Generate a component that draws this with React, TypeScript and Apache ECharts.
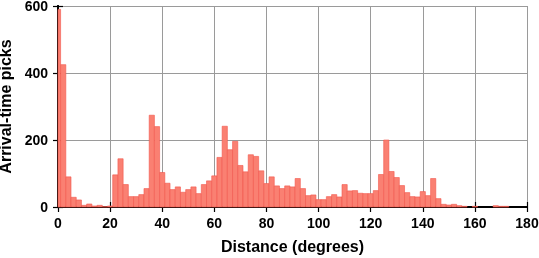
import React, { useEffect, useRef } from "react";
import * as echarts from "echarts";

// Bin centres (degrees), bins are 2 degrees wide, centred on even values
const binCenters = [
  0, 2, 4, 6, 8, 10, 12, 14, 16, 18,
  20, 22, 24, 26, 28, 30, 32, 34, 36, 38,
  40, 42, 44, 46, 48, 50, 52, 54, 56, 58,
  60, 62, 64, 66, 68, 70, 72, 74, 76, 78,
  80, 82, 84, 86, 88, 90, 92, 94, 96, 98,
  100, 102, 104, 106, 108, 110, 112, 114, 116, 118,
  120, 122, 124, 126, 128, 130, 132, 134, 136, 138,
  140, 142, 144, 146, 148, 150, 152, 154, 156, 158,
  160, 162, 164, 166, 168, 170, 172, 174, 176, 178,
  180,
];

// Arrival-time pick counts per bin
const pickCounts = [
  590, 425, 90, 29, 21, 5, 9, 3, 5, 1,
  3, 96, 144, 67, 31, 31, 37, 55, 274, 240,
  103, 71, 52, 60, 44, 52, 60, 40, 67, 78,
  93, 148, 241, 171, 196, 124, 105, 156, 151, 108,
  70, 90, 63, 55, 63, 60, 85, 55, 34, 36,
  22, 22, 31, 37, 30, 67, 48, 49, 41, 40,
  40, 49, 97, 200, 106, 88, 64, 43, 31, 30,
  46, 34, 85, 25, 8, 6, 8, 4, 2, 0,
  2, 0, 0, 0, 4, 2, 2, 0, 0, 0,
  0,
];

const binWidth = 2;
const xTicks = [0, 20, 40, 60, 80, 100, 120, 140, 160, 180];
const yTicks = [0, 200, 400, 600];

const FONT = "'Liberation Sans', Arial, Helvetica, sans-serif";

export default function App() {
  const ref = useRef<HTMLDivElement>(null);

  useEffect(() => {
    if (!ref.current) return;
    const chart = echarts.init(ref.current, null, { renderer: "svg" });
    const xMin = xTicks[0];
    const xMax = xTicks[xTicks.length - 1];
    const data = binCenters.map((c, i) => [c, pickCounts[i]]);

    const axisLine = { show: true, lineStyle: { color: "#000", width: 2 } };
    const axisTick = { show: true, inside: false, length: 5, lineStyle: { color: "#000", width: 1.2 } };

    chart.setOption({
      animation: false,
      grid: {
        left: 58,
        right: 12,
        top: 6,
        bottom: 51,
        containLabel: false,
        outerBoundsMode: "none",
      },
      xAxis: [
        {
          type: "value",
          position: "bottom",
          min: xMin,
          max: xMax,
          interval: 20,
          axisLine,
          axisTick,
          axisLabel: {
            color: "#000",
            fontFamily: FONT,
            fontWeight: "bold",
            fontSize: 14,
            margin: 9,
          },
          splitLine: { show: true, lineStyle: { color: "#9a9a9a", width: 1 } },
          name: "Distance (degrees)",
          nameLocation: "middle",
          nameGap: 31,
          nameTextStyle: { color: "#000", fontFamily: FONT, fontWeight: "bold", fontSize: 16 },
        },
        {
          type: "value",
          position: "top",
          min: xMin,
          max: xMax,
          interval: 20,
          axisLine,
          axisTick,
          axisLabel: { show: false },
          splitLine: { show: false },
        },
      ],
      yAxis: [
        {
          type: "value",
          position: "left",
          min: yTicks[0],
          max: yTicks[yTicks.length - 1],
          interval: 200,
          axisLine,
          axisTick,
          axisLabel: {
            color: "#000",
            fontFamily: FONT,
            fontWeight: "bold",
            fontSize: 14,
            margin: 10,
            padding: [3, 0, 0, 0],
          },
          splitLine: { show: true, lineStyle: { color: "#9a9a9a", width: 1 } },
          name: "Arrival-time picks",
          nameLocation: "middle",
          nameGap: 39,
          nameTextStyle: { color: "#000", fontFamily: FONT, fontWeight: "bold", fontSize: 16 },
        },
        {
          type: "value",
          position: "right",
          min: yTicks[0],
          max: yTicks[yTicks.length - 1],
          interval: 200,
          axisLine,
          axisTick,
          axisLabel: { show: false },
          splitLine: { show: false },
        },
      ],
      series: [
        {
          type: "custom",
          xAxisIndex: 0,
          yAxisIndex: 0,
          data,
          renderItem: (params: any, api: any) => {
            const c = api.value(0);
            const v = api.value(1);
            if (!v) return null;
            const x0 = Math.max(xMin, c - binWidth / 2);
            const x1 = Math.min(xMax, c + binWidth / 2);
            const p0 = api.coord([x0, 0]);
            const p1 = api.coord([x1, v]);
            return {
              type: "rect",
              shape: {
                x: p0[0],
                y: p1[1],
                width: p1[0] - p0[0],
                height: p0[1] - p1[1],
              },
              style: {
                fill: "#FA8072",
                stroke: "#F2554B",
                lineWidth: 0.6,
              },
            };
          },
        },
      ],
    });

    return () => chart.dispose();
  }, []);

  return (
    <div
      ref={ref}
      style={{ position: "fixed", left: 0, top: 0, width: 539, height: 258 }}
    />
  );
}
